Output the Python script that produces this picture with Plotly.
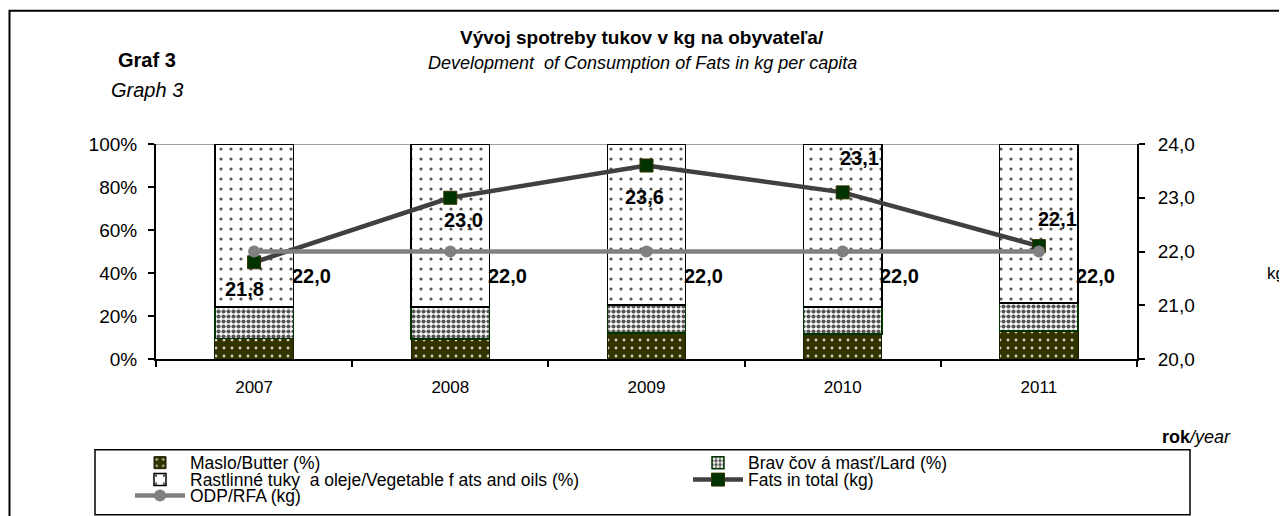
import plotly.graph_objects as go

years = ["2007", "2008", "2009", "2010", "2011"]
butter_pct = [9.6, 9.3, 12.2, 11.6, 13.0]
lard_pct = [14.7, 15.0, 13.0, 12.7, 13.0]
veg_pct = [round(100 - b - l, 1) for b, l in zip(butter_pct, lard_pct)]
fats_total_kg = [21.8, 23.0, 23.6, 23.1, 22.1]
rfa_kg = [22.0, 22.0, 22.0, 22.0, 22.0]
pct_ticks = [0, 20, 40, 60, 80, 100]

# label offsets (pixels) for data labels
fats_label_shift = [(-10, -27), (13, -22), (-2, -31), (17, 34), (19, 27)]
rfa_label_shift = [(57, -24)] * 5

FONT = "Liberation Sans, Arial, sans-serif"

# page body has an 8px margin -> work in screen coordinates and convert
OFF = 8
W, H = 1287, 516
L, R, T, B = 156 - OFF, 1137 - OFF, 143.5 - OFF, 359 - OFF
pw, ph = R - L, B - T


def sx(x):
    return (x - OFF - L) / pw


def sy(y):
    return (B - (y - OFF)) / ph


fig = go.Figure()
fig.add_trace(go.Bar(
    x=years, y=butter_pct, name="Maslo/Butter (%)", legend="legend",
    marker=dict(color="#333300", line=dict(color="#1a1a00", width=1),
                pattern=dict(shape=".", fgcolor="#d0d0c0", bgcolor="#333300",
                             size=8, solidity=0.1, fillmode="replace")),
    hoverinfo="skip"))
fig.add_trace(go.Bar(
    x=years, y=lard_pct, name="Brav čov á masť/Lard (%)", legend="legend2",
    marker=dict(color="#ffffff", line=dict(color="#003300", width=1.5),
                pattern=dict(shape=".", fgcolor="#555555", bgcolor="#ffffff",
                             size=5, solidity=0.55, fillmode="replace")),
    hoverinfo="skip"))
fig.add_trace(go.Bar(
    x=years, y=veg_pct, name="Rastlinné tuky  a oleje/Vegetable f ats and oils (%)",
    legend="legend3",
    marker=dict(color="#ffffff", line=dict(color="#000000", width=1.5),
                pattern=dict(shape=".", fgcolor="#555555", bgcolor="#ffffff",
                             size=10, solidity=0.08, fillmode="replace")),
    hoverinfo="skip"))
fig.add_trace(go.Scatter(
    x=years, y=fats_total_kg, name="Fats in total (kg)", yaxis="y2", legend="legend4",
    mode="lines+markers",
    line=dict(color="#404040", width=4.5),
    marker=dict(symbol="square", size=13, color="#003300",
                line=dict(color="#333300", width=1)),
    hoverinfo="skip"))
fig.add_trace(go.Scatter(
    x=years, y=rfa_kg, name="ODP/RFA (kg)", yaxis="y2", legend="legend5",
    mode="lines+markers",
    line=dict(color="#808080", width=4.5),
    marker=dict(symbol="circle", size=12, color="#808080"),
    hoverinfo="skip"))

ann = []
lab_font = dict(family=FONT, size=20, color="#000000", weight="bold")
for i, (v, (dx, dy)) in enumerate(zip(fats_total_kg, fats_label_shift)):
    ann.append(dict(x=i, y=v, xref="x", yref="y2", text=f"{v:.1f}".replace(".", ","),
                    showarrow=False, xshift=dx, yshift=dy, font=lab_font))
for i, (v, (dx, dy)) in enumerate(zip(rfa_kg, rfa_label_shift)):
    ann.append(dict(x=i, y=v, xref="x", yref="y2", text=f"{v:.1f}".replace(".", ","),
                    showarrow=False, xshift=dx, yshift=dy, font=lab_font))


def txt(x, y, text, size, xanchor="center"):
    return dict(x=sx(x), y=sy(y), xref="paper", yref="paper", text=text,
                xanchor=xanchor, yanchor="middle", showarrow=False,
                font=dict(family=FONT, size=size, color="#000"))


ann += [
    txt(147, 59, "<b>Graf 3</b>", 20),
    txt(147, 89, "<i>Graph 3</i>", 20),
    txt(642, 37, "<b>Vývoj spotreby tukov v kg na obyvateľa/</b>", 19),
    txt(642, 62, "<i>Development  of Consumption of Fats in kg per capita</i>", 18),
    txt(1276, 273, "kg", 17),
    txt(1233, 437, "<b>rok</b><i>/year</i>", 18, xanchor="right"),
]

shapes = [
    # outer chart border
    dict(type="rect", xref="paper", yref="paper", x0=sx(9.5), x1=sx(1300),
         y0=sy(530), y1=sy(10), line=dict(color="#000", width=2), layer="below"),
    # legend box
    dict(type="rect", xref="paper", yref="paper", x0=sx(95), x1=sx(1190),
         y0=sy(515), y1=sy(450), line=dict(color="#000", width=1.5), layer="below"),
    # top line at 100 %
    dict(type="line", xref="paper", yref="y", x0=0, x1=1, y0=100, y1=100,
         line=dict(color="#808080", width=1.5), layer="below"),
]


def leg(x, y):
    return dict(orientation="h", x=sx(x), y=sy(y), xanchor="left", yanchor="middle",
                borderwidth=0, bgcolor="rgba(0,0,0,0)", itemwidth=50,
                font=dict(family=FONT, size=17.5, color="#000"))


fig.update_layout(
    width=W, height=H,
    margin=dict(l=L, r=W - R, t=T, b=H - B, pad=0, autoexpand=False),
    paper_bgcolor="#ffffff", plot_bgcolor="#ffffff",
    barmode="stack", bargap=0.6,
    separators=", ",
    font=dict(family=FONT, size=16, color="#000"),
    xaxis=dict(type="category", range=[-0.5, 4.5], showline=True, linecolor="#000",
               linewidth=2, ticks="outside", tickson="boundaries", ticklen=6,
               tickcolor="#000", tickwidth=1.5, showgrid=False, tickfont=dict(size=17),
               ticklabelstandoff=12, tickangle=0),
    yaxis=dict(range=[0, 100], tickmode="array", tickvals=pct_ticks,
               ticktext=[f"{v}%" for v in pct_ticks],
               showline=True, linecolor="#000", linewidth=2, ticks="outside",
               ticklen=6, tickcolor="#000", tickwidth=1.5, showgrid=False,
               zeroline=False, tickfont=dict(size=19), ticklabelstandoff=7),
    yaxis2=dict(range=[20, 24], dtick=1, tickformat=".1f", overlaying="y", side="right",
                showline=True, linecolor="#000", linewidth=2, ticks="outside",
                ticklen=6, tickcolor="#000", tickwidth=1.5, showgrid=False,
                zeroline=False, tickfont=dict(size=19), ticklabelstandoff=9),
    legend=leg(130, 463),
    legend2=leg(688, 463),
    legend3=leg(130, 480),
    legend4=leg(688, 480),
    legend5=leg(130, 496),
    annotations=ann, shapes=shapes, showlegend=True,
)

fig.write_html("out.html")
